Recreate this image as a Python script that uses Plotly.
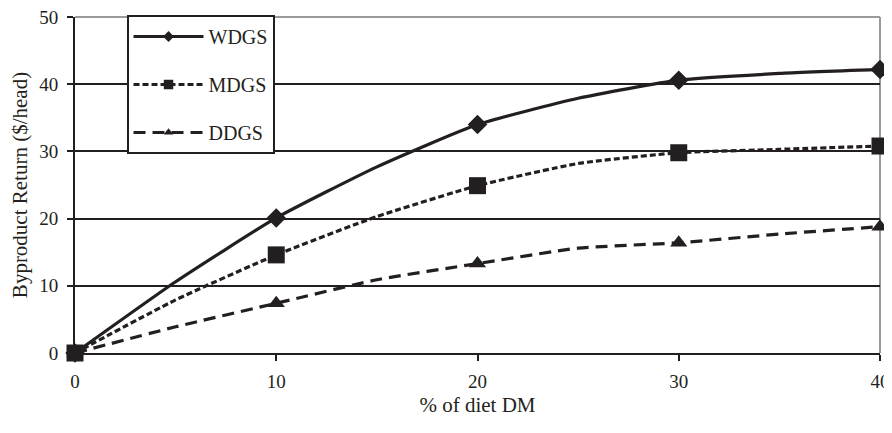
import plotly.graph_objects as go

diet_pct = [0, 5, 10, 15, 20, 25, 30, 35, 40]
wdgs = [0, 10.6, 20.1, 27.7, 34.0, 37.9, 40.6, 41.6, 42.2]
mdgs = [0, 7.9, 14.6, 20.3, 24.9, 28.2, 29.8, 30.3, 30.8]
ddgs = [0, 3.9, 7.4, 10.9, 13.3, 15.6, 16.4, 17.7, 18.8]
marked_x = [0, 10, 20, 30, 40]

series = [
    ("WDGS", wdgs, "solid", "diamond", 15),
    ("MDGS", mdgs, "6px,3px", "square", 17),
    ("DDGS", ddgs, "12px,7px", "triangle-up", 15),
]

FONT = "Liberation Serif"
INK = "#231f20"
fig = go.Figure()
for name, vals, dash, sym, size in series:
    sizes = [size if x in marked_x else 0 for x in diet_pct]
    fig.add_trace(go.Scatter(
        x=diet_pct, y=vals, name=name, mode="lines+markers",
        line=dict(color=INK, width=3.2, dash=dash, shape="spline", smoothing=0.5),
        marker=dict(symbol=sym, size=sizes, color=INK, opacity=1, line=dict(width=0)),
        cliponaxis=False, legendgroup=name,
    ))

fig.update_layout(
    width=884, height=425,
    margin=dict(l=67, r=12, t=9, b=80, autoexpand=False),
    paper_bgcolor="white", plot_bgcolor="white",
    font=dict(family=FONT, size=19, color=INK),
    showlegend=True,
    legend=dict(
        x=0.064, y=1.006, xanchor="left", yanchor="top",
        bgcolor="white", bordercolor=INK, borderwidth=2,
        font=dict(family=FONT, size=20, color=INK),
        itemwidth=70, tracegroupgap=19,
    ),
    xaxis=dict(
        range=[0, 40], tickvals=[0, 10, 20, 30, 40],
        showgrid=False, zeroline=False, automargin=False,
        showline=True, linecolor=INK, linewidth=2,
        ticks="outside", ticklen=6, tickwidth=2, tickcolor=INK,
        ticklabelstandoff=4, ticklabeloverflow="allow",
        title=dict(text="% of diet DM", standoff=7, font=dict(family=FONT, size=21)),
    ),
    yaxis=dict(
        range=[0, 50], tickvals=[0, 10, 20, 30, 40, 50],
        showgrid=True, gridcolor=INK, gridwidth=2,
        zeroline=False, automargin=False,
        showline=True, linecolor=INK, linewidth=2,
        ticks="outside", ticklen=6, tickwidth=2, tickcolor=INK,
        ticklabelstandoff=5, ticklabeloverflow="allow",
        title=dict(text="Byproduct Return ($/head)", standoff=9, font=dict(family=FONT, size=21)),
    ),
    shapes=[
        dict(type="line", xref="paper", yref="paper", x0=0, x1=1, y0=1, y1=1,
             line=dict(color="#9a9a9a", width=2), layer="above"),
        dict(type="line", xref="paper", yref="paper", x0=1, x1=1, y0=0, y1=1,
             line=dict(color="#9a9a9a", width=2), layer="below"),
    ],
)

fig.write_html("out.html")
